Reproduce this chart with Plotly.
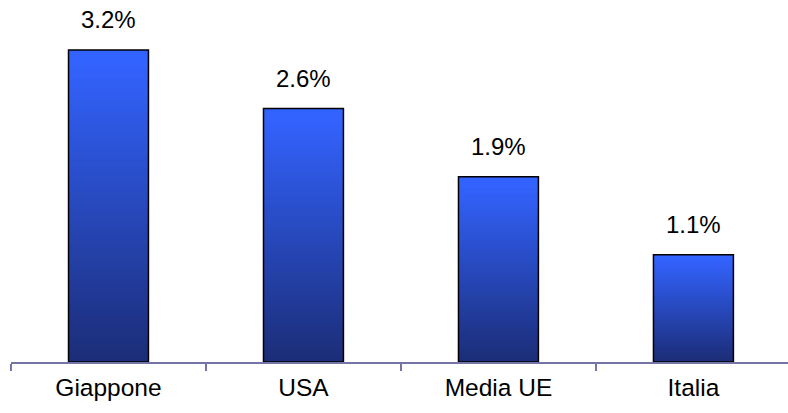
import plotly.graph_objects as go

categories = ["Giappone", "USA", "Media UE", "Italia"]
values = [3.2, 2.6, 1.9, 1.1]
labels = ["3.2%", "2.6%", "1.9%", "1.1%"]

TOP = (0x33, 0x63, 0xFF)
BOT = (0x1B, 0x2C, 0x74)
N = 60

def mix(t):
    r = [round(BOT[k] + (TOP[k] - BOT[k]) * t) for k in range(3)]
    return "rgb(%d,%d,%d)" % tuple(r)

fig = go.Figure()
W = 0.41
for i in range(N):
    ov = 0 if i == 0 else 1.5
    fig.add_trace(go.Bar(
        x=categories,
        y=[v * (1 + ov) / N for v in values],
        base=[v * (i - ov) / N for v in values],
        width=W,
        marker=dict(color=mix(i / (N - 1)), line=dict(width=0)),
        hoverinfo="skip",
        showlegend=False,
    ))

fig.add_trace(go.Bar(
    x=categories, y=values, width=W,
    marker=dict(color="rgba(0,0,0,0)", line=dict(color="black", width=1.5)),
    showlegend=False,
))

for c, v, t in zip(categories, values, labels):
    fig.add_annotation(x=c, y=v, text=t, showarrow=False, yanchor="bottom",
                       yshift=15, font=dict(family="Liberation Sans, Arial", size=24, color="black"))

fig.update_layout(
    barmode="overlay",
    width=788, height=413,
    margin=dict(l=11, r=0, t=0, b=51),
    paper_bgcolor="white", plot_bgcolor="white",
    font=dict(family="Liberation Sans, Arial", size=24, color="black"),
    xaxis=dict(
        type="category", range=[-0.5, 3.485],
        showline=True, linecolor="#7474A6", linewidth=2,
        ticks="outside", tickson="boundaries", ticklen=7, tickcolor="#7474A6", tickwidth=2,
        ticklabelstandoff=3,
        showgrid=False, zeroline=False,
        tickfont=dict(size=24.5, color="black"),
    ),
    yaxis=dict(range=[0, 3.713], visible=False, showgrid=False, zeroline=False),
)

fig.write_html("out.html")
